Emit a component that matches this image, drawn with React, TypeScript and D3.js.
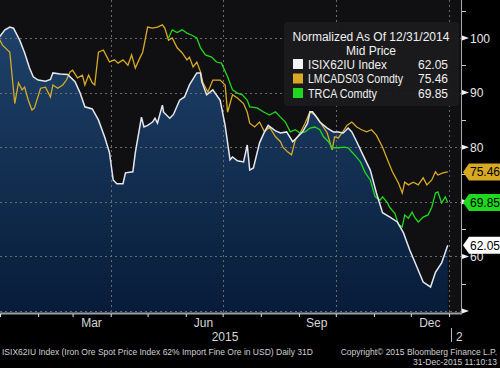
import { useEffect, useRef } from 'react';
import * as d3 from 'd3';

// ISIX62IU Index (iron ore 62%), normalized to 100 at 12/31/2014
const isixData: [string, number][] = [
  ['2014-12-31', 100], ['2015-01-05', 101.5], ['2015-01-09', 102], ['2015-01-12', 101.8],
  ['2015-01-17', 99.6], ['2015-01-21', 97.3], ['2015-01-25', 94.5], ['2015-01-28', 92.9],
  ['2015-02-01', 92.3], ['2015-02-07', 92.1], ['2015-02-11', 92.4], ['2015-02-13', 93.6],
  ['2015-02-19', 93.4], ['2015-02-25', 93.3], ['2015-03-03', 92], ['2015-03-07', 90],
  ['2015-03-11', 87.4], ['2015-03-17', 87], ['2015-03-22', 85], ['2015-03-27', 81.9],
  ['2015-03-31', 79], ['2015-04-03', 74], ['2015-04-06', 73.3], ['2015-04-11', 73.3],
  ['2015-04-13', 75.3], ['2015-04-19', 75.5], ['2015-04-21', 79], ['2015-04-26', 85.5],
  ['2015-04-28', 83.7], ['2015-05-01', 84], ['2015-05-05', 84.6], ['2015-05-07', 85.3],
  ['2015-05-09', 84.4], ['2015-05-13', 87.7], ['2015-05-14', 86.4], ['2015-05-19', 85.3],
  ['2015-05-22', 86], ['2015-05-27', 88.6], ['2015-05-31', 89.2], ['2015-06-04', 91.4],
  ['2015-06-10', 93.6], ['2015-06-13', 93.6], ['2015-06-14', 92], ['2015-06-18', 89.6],
  ['2015-06-23', 90.5], ['2015-06-29', 88.6], ['2015-07-03', 84], ['2015-07-07', 77.7],
  ['2015-07-09', 78.2], ['2015-07-13', 77.5], ['2015-07-18', 77.3], ['2015-07-21', 80.4],
  ['2015-07-23', 75.8], ['2015-07-26', 76.2], ['2015-07-31', 80.8], ['2015-08-04', 82.8],
  ['2015-08-07', 84], ['2015-08-13', 83], ['2015-08-17', 82.6], ['2015-08-22', 82.8],
  ['2015-08-27', 81], ['2015-08-31', 81.9], ['2015-09-04', 82.8], ['2015-09-08', 84.4],
  ['2015-09-10', 86.5], ['2015-09-12', 86.5], ['2015-09-16', 85.3], ['2015-09-18', 84.6],
  ['2015-09-24', 83.5], ['2015-09-29', 82.8], ['2015-10-03', 82.8], ['2015-10-07', 82.6],
  ['2015-10-11', 83.5], ['2015-10-14', 82.8], ['2015-10-18', 81], ['2015-10-23', 78.6],
  ['2015-10-29', 75.8], ['2015-11-03', 71.6], ['2015-11-08', 68], ['2015-11-14', 67.2],
  ['2015-11-20', 66.3], ['2015-11-25', 64.3], ['2015-11-30', 61.2], ['2015-12-06', 58],
  ['2015-12-11', 55.3], ['2015-12-17', 54.4], ['2015-12-21', 57.1], ['2015-12-26', 58.8],
  ['2015-12-31', 62.05],
];

// LMCADS03 Comdty (LME copper 3M)
const lmcaData: [string, number][] = [
  ['2014-12-31', 100], ['2015-01-03', 98.7], ['2015-01-09', 97.4], ['2015-01-13', 88],
  ['2015-01-16', 91.8], ['2015-01-19', 90.5], ['2015-01-21', 91], ['2015-01-24', 88.6],
  ['2015-01-27', 86.8], ['2015-01-29', 87.2], ['2015-02-03', 90.8], ['2015-02-07', 91],
  ['2015-02-11', 89.2], ['2015-02-13', 91.4], ['2015-02-17', 90.8], ['2015-02-21', 91.4],
  ['2015-02-24', 92.3], ['2015-02-27', 93.8], ['2015-03-01', 94.1], ['2015-03-05', 92.7],
  ['2015-03-09', 93.2], ['2015-03-11', 91.4], ['2015-03-14', 93.2], ['2015-03-17', 91.8],
  ['2015-03-19', 91.4], ['2015-03-22', 97.4], ['2015-03-26', 97.8], ['2015-03-29', 96.5],
  ['2015-03-31', 95.6], ['2015-04-04', 96], ['2015-04-07', 95.4], ['2015-04-11', 96],
  ['2015-04-15', 95], ['2015-04-18', 96.9], ['2015-04-21', 94.5], ['2015-04-25', 96.5],
  ['2015-04-27', 97.4], ['2015-05-01', 102], ['2015-05-05', 101.8], ['2015-05-09', 102],
  ['2015-05-13', 102.4], ['2015-05-15', 101.8], ['2015-05-18', 99.6], ['2015-05-21', 100],
  ['2015-05-25', 98.2], ['2015-05-29', 97.3], ['2015-06-02', 96], ['2015-06-04', 96.5],
  ['2015-06-07', 94.7], ['2015-06-10', 95.6], ['2015-06-13', 93.8], ['2015-06-15', 91.8],
  ['2015-06-19', 90.1], ['2015-06-23', 92.3], ['2015-06-29', 92.3], ['2015-07-03', 91.4],
  ['2015-07-05', 86.4], ['2015-07-09', 89.6], ['2015-07-13', 89], ['2015-07-18', 88],
  ['2015-07-21', 86.4], ['2015-07-23', 84.4], ['2015-07-27', 83.7], ['2015-07-31', 84.6],
  ['2015-08-04', 82.8], ['2015-08-08', 83.7], ['2015-08-13', 81.9], ['2015-08-17', 81],
  ['2015-08-19', 80], ['2015-08-23', 79.1], ['2015-08-26', 78.6], ['2015-08-29', 81.3],
  ['2015-09-02', 82.6], ['2015-09-06', 84.4], ['2015-09-10', 86.5], ['2015-09-14', 85.9],
  ['2015-09-17', 85], ['2015-09-20', 84], ['2015-09-24', 82.6], ['2015-09-28', 79.5],
  ['2015-09-30', 81.9], ['2015-10-03', 81.7], ['2015-10-06', 82.6], ['2015-10-10', 84],
  ['2015-10-14', 84.6], ['2015-10-18', 83.7], ['2015-10-22', 83.2], ['2015-10-26', 82.8],
  ['2015-10-30', 83.2], ['2015-11-03', 82.2], ['2015-11-08', 80], ['2015-11-12', 77.7],
  ['2015-11-16', 75.5], ['2015-11-21', 73.4], ['2015-11-24', 71.6], ['2015-11-26', 73.6],
  ['2015-11-29', 73.1], ['2015-12-03', 73.6], ['2015-12-07', 73.1], ['2015-12-11', 74.4],
  ['2015-12-14', 73.1], ['2015-12-18', 74], ['2015-12-21', 75.5], ['2015-12-23', 74.9],
  ['2015-12-27', 75.3], ['2015-12-31', 75.46],
];

// TRCA Comdty (starts mid-May)
const trcaData: [string, number][] = [
  ['2015-05-18', 100], ['2015-05-21', 101.5], ['2015-05-25', 101], ['2015-05-29', 101.5],
  ['2015-06-02', 100.9], ['2015-06-06', 100.5], ['2015-06-10', 100], ['2015-06-13', 98.2],
  ['2015-06-17', 96.9], ['2015-06-22', 96.5], ['2015-06-26', 95.6], ['2015-06-30', 95.4],
  ['2015-07-05', 92.9], ['2015-07-09', 90.5], ['2015-07-13', 89.9], ['2015-07-17', 89.6],
  ['2015-07-21', 88.6], ['2015-07-23', 87.4], ['2015-07-29', 87.2], ['2015-08-03', 86.5],
  ['2015-08-08', 85.9], ['2015-08-13', 86.5], ['2015-08-17', 85.5], ['2015-08-21', 84.6],
  ['2015-08-25', 82.8], ['2015-08-29', 83.2], ['2015-09-02', 82.6], ['2015-09-06', 82.8],
  ['2015-09-10', 83.5], ['2015-09-14', 83.7], ['2015-09-18', 83.2], ['2015-09-21', 81.9],
  ['2015-09-25', 81], ['2015-09-28', 79.9], ['2015-10-03', 79.9], ['2015-10-08', 80],
  ['2015-10-11', 79.9], ['2015-10-15', 78.9], ['2015-10-21', 77.3], ['2015-10-25', 75.3],
  ['2015-10-29', 74], ['2015-11-02', 70.9], ['2015-11-06', 70.3], ['2015-11-08', 70.9],
  ['2015-11-12', 69.8], ['2015-11-14', 68.9], ['2015-11-18', 67.9], ['2015-11-21', 65.8],
  ['2015-11-24', 65.4], ['2015-11-26', 67.6], ['2015-11-29', 67], ['2015-12-02', 68.1],
  ['2015-12-04', 67.2], ['2015-12-07', 66.3], ['2015-12-11', 67.2], ['2015-12-15', 67.6],
  ['2015-12-18', 69], ['2015-12-21', 71.6], ['2015-12-23', 71.8], ['2015-12-26', 69.8],
  ['2015-12-29', 70.9], ['2015-12-31', 69.85],
];

const legendItems = [
  { name: 'ISIX62IU Index', last: '62.05', color: '#f4f4f4', width: 79 },
  { name: 'LMCADS03 Comdty', last: '75.46', color: '#d8aa24', width: 95 },
  { name: 'TRCA Comdty', last: '69.85', color: '#1fd81f', width: 69 },
];
const yTickValues = [60, 80, 90, 100];
const yArrowValues = [50, 60, 70, 80, 90, 100];
const yMinorValues = [55, 65, 75, 85, 95, 105];
const monthLabels = ['2015-03-16', '2015-06-15', '2015-09-15', '2015-12-16'];
const gridDates = ['2015-04-01', '2015-07-01', '2015-10-01', '2016-01-01'];

const FONT = '"Liberation Sans", Arial, sans-serif';

const App = () => {
  const svgRef = useRef<SVGSVGElement>(null);

  useEffect(() => {
    if (!svgRef.current) return;
    const W = 500;
    const H = 368;
    const plotW = 461;
    const plotH = 313;
    const parse = d3.timeParse('%Y-%m-%d');

    const svg = d3.select(svgRef.current);
    svg.selectAll('*').remove();
    svg.attr('width', W).attr('height', H);

    const x = d3.scaleTime()
      .domain([new Date(2015, 0, 1), new Date(2016, 0, 1)])
      .range([0, 449]);
    const y = d3.scaleLinear().domain([49.63, 106.96]).range([plotH, 0]);

    svg.append('rect').attr('width', W).attr('height', H).attr('fill', '#000');
    svg.append('rect').attr('width', plotW).attr('height', plotH).attr('fill', '#101012');

    const defs = svg.append('defs');
    defs.append('clipPath').attr('id', 'plotClip')
      .append('rect').attr('width', plotW).attr('height', plotH);
    const grad = defs.append('linearGradient').attr('id', 'areaGrad')
      .attr('gradientUnits', 'userSpaceOnUse')
      .attr('x1', 0).attr('y1', 0).attr('x2', 0).attr('y2', plotH);
    grad.append('stop').attr('offset', '0%').attr('stop-color', '#21456e');
    grad.append('stop').attr('offset', '100%').attr('stop-color', '#071c39');

    const plot = svg.append('g').attr('clip-path', 'url(#plotClip)');

    const toPts = (arr: [string, number][]) => arr.map(([d, v]) => ({ date: parse(d) as Date, v }));
    const isix = toPts(isixData);
    const lmca = toPts(lmcaData);
    const trca = toPts(trcaData);

    // area under ISIX
    const area = d3.area<{ date: Date; v: number }>()
      .x(d => x(d.date)).y0(plotH).y1(d => y(d.v));
    plot.append('path').datum(isix).attr('d', area).attr('fill', 'url(#areaGrad)');

    // grid
    plot.selectAll('line.hgrid').data(yArrowValues).enter().append('line')
      .attr('x1', 0).attr('x2', plotW)
      .attr('y1', d => Math.round(y(d)) + 0.5).attr('y2', d => Math.round(y(d)) + 0.5)
      .attr('stroke', '#6a6a6a').attr('stroke-width', 1).attr('stroke-dasharray', '2,3');
    plot.selectAll('line.vgrid').data(gridDates.map(d => parse(d) as Date)).enter().append('line')
      .attr('x1', d => Math.round(x(d)) + 0.5).attr('x2', d => Math.round(x(d)) + 0.5)
      .attr('y1', 0).attr('y2', plotH)
      .attr('stroke', '#6a6a6a').attr('stroke-width', 1).attr('stroke-dasharray', '2,3');

    const line = d3.line<{ date: Date; v: number }>().x(d => x(d.date)).y(d => y(d.v));
    plot.append('path').datum(lmca).attr('d', line).attr('fill', 'none')
      .attr('stroke', legendItems[1].color).attr('stroke-width', 1.3);
    plot.append('path').datum(trca).attr('d', line).attr('fill', 'none')
      .attr('stroke', legendItems[2].color).attr('stroke-width', 1.3);
    plot.append('path').datum(isix).attr('d', line).attr('fill', 'none')
      .attr('stroke', '#e4e8ee').attr('stroke-width', 1.5);

    // legend
    const lg = svg.append('g');
    lg.append('rect').attr('x', 284).attr('y', 22).attr('width', 175).attr('height', 84)
      .attr('rx', 4).attr('fill', '#1b1b1d').attr('fill-opacity', 0.95);
    lg.append('text').attr('x', 371).attr('y', 41).attr('text-anchor', 'middle')
      .style('font-family', FONT).style('font-size', '12px').attr('fill', '#f0f0f0')
      .text('Normalized As Of 12/31/2014');
    lg.append('text').attr('x', 371).attr('y', 55).attr('text-anchor', 'middle')
      .style('font-family', FONT).style('font-size', '12px').attr('fill', '#f0f0f0')
      .text('Mid Price');
    legendItems.forEach((item, i) => {
      const cy = 64 + i * 14.5;
      lg.append('rect').attr('x', 293).attr('y', cy - 5).attr('width', 10).attr('height', 10)
        .attr('fill', item.color);
      lg.append('text').attr('x', 308).attr('y', cy + 4.5)
        .attr('textLength', item.width).attr('lengthAdjust', 'spacingAndGlyphs')
        .style('font-family', FONT).style('font-size', '12px').attr('fill', '#f0f0f0')
        .text(item.name);
      lg.append('text').attr('x', 448).attr('y', cy + 4.5).attr('text-anchor', 'end')
        .style('font-family', FONT).style('font-size', '12px').attr('fill', '#f0f0f0')
        .text(item.last);
    });

    // right axis
    const ra = svg.append('g').attr('transform', `translate(${plotW},0)`);
    ra.call(d3.axisRight(y).tickValues(yTickValues).tickSize(0).tickPadding(9)
      .tickFormat(d => String(d)));
    ra.select('.domain').remove();
    ra.selectAll('text').style('font-family', FONT).style('font-size', '12px')
      .attr('fill', '#e8e8e8').attr('dy', '0.35em');
    svg.append('line').attr('x1', plotW + 0.5).attr('x2', plotW + 0.5).attr('y1', 0).attr('y2', plotH + 1)
      .attr('stroke', '#a8a8a8').attr('stroke-width', 1);
    yArrowValues.forEach(v => {
      const yy = y(v);
      svg.append('path')
        .attr('d', `M${plotW + 1},${yy - 2.5}L${plotW + 8},${yy}L${plotW + 1},${yy + 2.5}Z`)
        .attr('fill', '#f2f2f2');
    });
    yMinorValues.forEach(v => {
      const yy = Math.round(y(v)) + 0.5;
      svg.append('line').attr('x1', plotW + 1).attr('x2', plotW + 5).attr('y1', yy).attr('y2', yy)
        .attr('stroke', '#cfcfcf');
    });

    // bottom axis
    svg.append('line').attr('x1', 0).attr('x2', plotW + 1).attr('y1', plotH + 0.5).attr('y2', plotH + 0.5)
      .attr('stroke', '#9a9ea6').attr('stroke-width', 2);
    const months = d3.timeMonth.range(new Date(2015, 0, 1), new Date(2016, 0, 2));
    const ba = svg.append('g').attr('transform', `translate(0,${plotH + 1})`);
    ba.call(d3.axisBottom(x).tickValues(months).tickSize(3).tickFormat(() => ''));
    ba.select('.domain').remove();
    ba.selectAll('line').attr('stroke', '#e0e0e0');
    const bl = svg.append('g').attr('transform', `translate(0,${plotH})`);
    bl.call(d3.axisBottom(x).tickValues(monthLabels.map(d => parse(d) as Date)).tickSize(0).tickPadding(5)
      .tickFormat(d => d3.timeFormat('%b')(d as Date)));
    bl.select('.domain').remove();
    bl.selectAll('text').style('font-family', FONT).style('font-size', '12px').attr('fill', '#d6d6d6');

    svg.append('text').attr('x', 225).attr('y', 341).attr('text-anchor', 'middle')
      .style('font-family', FONT).style('font-size', '12px').attr('fill', '#d6d6d6').text('2015');
    svg.append('line').attr('x1', 451.5).attr('x2', 451.5).attr('y1', 328).attr('y2', 342)
      .attr('stroke', '#bdbdbd');
    svg.append('text').attr('x', 456).attr('y', 341)
      .style('font-family', FONT).style('font-size', '12px').attr('fill', '#d6d6d6').text('2');

    // value tags
    const tags = [
      { v: 75.46, color: legendItems[1].color },
      { v: 69.85, color: legendItems[2].color },
      { v: 62.05, color: '#ffffff' },
    ];
    tags.forEach(t => {
      const cy = y(t.v);
      svg.append('path')
        .attr('d', `M463,${cy}L469,${cy - 8.5}L500,${cy - 8.5}L500,${cy + 8.5}L469,${cy + 8.5}Z`)
        .attr('fill', t.color);
      svg.append('text').attr('x', 470).attr('y', cy + 4.5)
        .style('font-family', FONT).style('font-size', '12px').attr('fill', '#000')
        .text(t.v.toFixed(2));
    });

    // footer
    svg.append('text').attr('x', 2).attr('y', 355)
      .style('font-family', FONT).style('font-size', '8.5px').attr('fill', '#d0d0d0')
      .text('ISIX62IU Index (Iron Ore Spot Price Index 62% Import Fine Ore in USD)  Daily 31D');
    svg.append('text').attr('x', 497).attr('y', 355).attr('text-anchor', 'end')
      .style('font-family', FONT).style('font-size', '8.5px').attr('fill', '#d0d0d0')
      .text('Copyright\u00a9 2015 Bloomberg Finance L.P.');
    svg.append('text').attr('x', 497).attr('y', 365).attr('text-anchor', 'end')
      .style('font-family', FONT).style('font-size', '8.5px').attr('fill', '#d0d0d0')
      .text('31-Dec-2015 11:10:13');
  }, []);

  return (
    <div style={{ position: 'absolute', left: 0, top: 0, width: 500, height: 368, background: '#000' }}>
      <svg ref={svgRef} style={{ display: 'block' }}></svg>
    </div>
  );
};

export default App;
